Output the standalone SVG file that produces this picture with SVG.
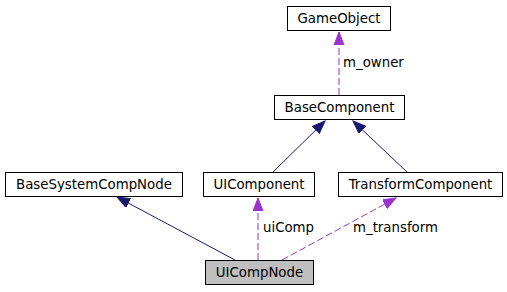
<svg xmlns="http://www.w3.org/2000/svg" width="507" height="292" viewBox="0 0 507 292">
  <style>
    .node rect { fill: #ffffff; stroke: #000000; stroke-width: 1; }
    .node.current rect { fill: #bfbfbf; }
    .node text { font-family: "DejaVu Sans", sans-serif; font-size: 13.33px; text-anchor: middle; fill: #000000; }
    .inherit { stroke: #191970; stroke-width: 1; fill: none; marker-end: url(#arrowNavy); }
    .usage { stroke: #9a32cd; stroke-width: 1; fill: none; stroke-dasharray: 7,3; marker-end: url(#arrowPurple); }
    .label { font-family: "DejaVu Sans", sans-serif; font-size: 13.33px; fill: #000000; }
  </style>
  <defs>
    <marker id="arrowNavy" markerUnits="userSpaceOnUse" markerWidth="14" markerHeight="11" refX="13" refY="5" orient="auto">
      <path d="M0,0 L13,5 L0,10 Z" fill="#191970" stroke="#191970" stroke-width="1"/>
    </marker>
    <marker id="arrowPurple" markerUnits="userSpaceOnUse" markerWidth="14" markerHeight="11" refX="13" refY="5" orient="auto">
      <path d="M0,0 L13,5 L0,10 Z" fill="#9a32cd" stroke="#9a32cd" stroke-width="1"/>
    </marker>
  </defs>

  <rect width="507" height="292" fill="#ffffff"/>

  <!-- connectors -->
  <g id="edges">
    <line class="usage" x1="339" y1="95" x2="339" y2="32"/>
    <line class="inherit" x1="273" y1="172" x2="325" y2="121"/>
    <line class="inherit" x1="407" y1="172" x2="353" y2="121"/>
    <line class="inherit" x1="235" y1="260" x2="117" y2="197"/>
    <line class="usage" x1="258" y1="260" x2="258" y2="198"/>
    <line class="usage" x1="282" y1="260" x2="396" y2="198"/>
    <text class="label" x="343" y="67">m_owner</text>
    <text class="label" x="263" y="232">uiComp</text>
    <text class="label" x="353" y="232">m_transform</text>
  </g>

  <!-- nodes -->
  <g id="GameObject" class="node">
    <rect x="287.5" y="6.5" width="103" height="24"/>
    <text x="339" y="23">GameObject</text>
  </g>
  <g id="BaseComponent" class="node">
    <rect x="274.5" y="95.5" width="130" height="24"/>
    <text x="339.5" y="112">BaseComponent</text>
  </g>
  <g id="BaseSystemCompNode" class="node">
    <rect x="5.5" y="172.5" width="177" height="24"/>
    <text x="94" y="189">BaseSystemCompNode</text>
  </g>
  <g id="UIComponent" class="node">
    <rect x="203.5" y="172.5" width="111" height="24"/>
    <text x="259" y="189">UIComponent</text>
  </g>
  <g id="TransformComponent" class="node">
    <rect x="338.5" y="172.5" width="164" height="24"/>
    <text x="420.5" y="189">TransformComponent</text>
  </g>
  <g id="UICompNode" class="node current">
    <rect x="205.5" y="260.5" width="108" height="24"/>
    <text x="259.5" y="277">UICompNode</text>
  </g>
</svg>
